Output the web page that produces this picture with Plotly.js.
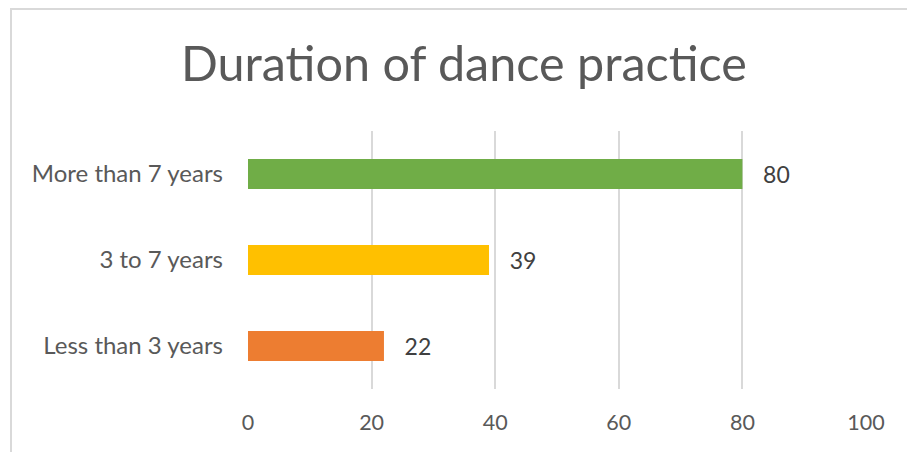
<!DOCTYPE html>
<html>
<head>
<meta charset="utf-8">
<script src="https://cdn.plot.ly/plotly-3.0.1.min.js"></script>
<style>
html,body{margin:0;padding:0;background:#fff;}
#wrap{position:relative;width:907px;height:452px;overflow:hidden;}
#frame{position:absolute;left:10px;top:8px;width:1000px;height:1000px;border-left:2px solid #d9d9d9;border-top:2px solid #d9d9d9;pointer-events:none;z-index:5;}
#chart{position:absolute;left:0;top:0;width:907px;height:452px;}
</style>
</head>
<body>
<div id="wrap">
<div id="chart"></div>
<div id="frame"></div>
</div>
<script>
const categories = ["Less than 3 years", "3 to 7 years", "More than 7 years"];
const values = [22, 39, 80];
const barColors = ["#ED7D31", "#FFC000", "#70AD47"];
const xTicks = [0, 20, 40, 60, 80, 100];
const chartTitle = "Duration of dance practice";

const font = "Lato, 'Open Sans', sans-serif";

const trace = {
  type: "bar",
  orientation: "h",
  y: categories,
  x: values,
  marker: {color: barColors, line: {width: 0}},
  width: 0.35,
  text: values.map(String),
  texttemplate: "\u00a0\u00a0\u00a0%{x}",
  textposition: "outside",
  cliponaxis: false,
  textfont: {family: font, size: 23, color: "#404040"},
  hoverinfo: "none"
};

const layout = {
  width: 907,
  height: 452,
  margin: {l: 248, r: 41, t: 131, b: 63},
  paper_bgcolor: "#ffffff",
  plot_bgcolor: "#ffffff",
  showlegend: false,
  title: {
    text: chartTitle,
    font: {family: font, size: 48.5, color: "#595959"},
    x: 464 / 907,
    xanchor: "center",
    xref: "container",
    y: 1 - 64 / 452,
    yanchor: "middle",
    yref: "container"
  },
  xaxis: {
    range: [0, 100],
    tickvals: xTicks,
    ticktext: xTicks.map(String),
    showgrid: true,
    gridcolor: "#d9d9d9",
    gridwidth: 2,
    zeroline: false,
    showline: false,
    ticks: "",
    tickfont: {family: font, size: 21.5, color: "#595959"},
    ticklabelstandoff: 18,
    fixedrange: true
  },
  yaxis: {
    type: "category",
    categoryorder: "array",
    categoryarray: categories,
    range: [-0.5, 2.5],
    showgrid: false,
    zeroline: false,
    showline: false,
    ticks: "",
    tickfont: {family: font, size: 24, color: "#595959"},
    ticklabelstandoff: 24,
    fixedrange: true
  }
};

Plotly.newPlot("chart", [trace], layout, {displayModeBar: false, staticPlot: true});
</script>
</body>
</html>
